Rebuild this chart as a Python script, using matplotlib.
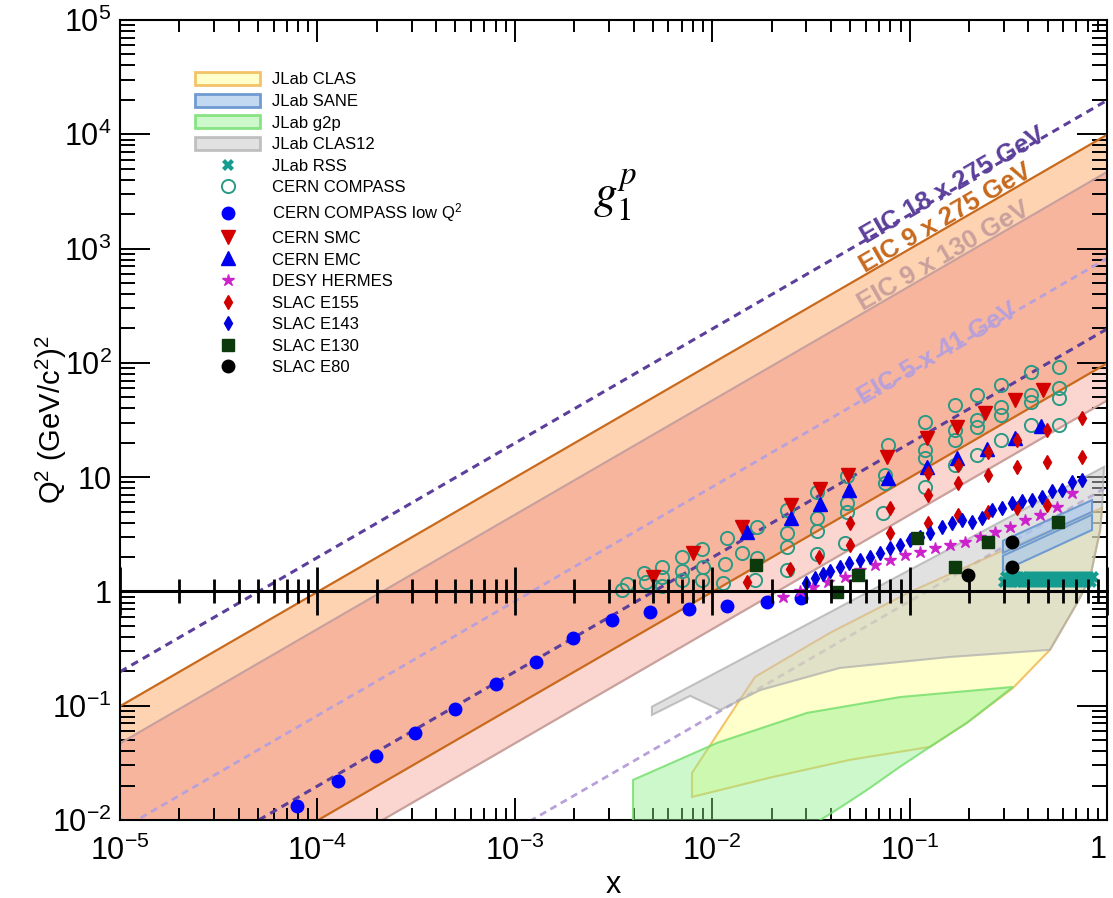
import numpy as np
import matplotlib
matplotlib.use('Agg')
from matplotlib import pyplot as plt
from matplotlib import ticker
from matplotlib.patches import Patch

plt.rcParams['font.family'] = ['Liberation Sans', 'DejaVu Sans']
plt.rcParams['mathtext.fontset'] = 'custom'
plt.rcParams['mathtext.rm'] = 'Liberation Sans'
plt.rcParams['mathtext.it'] = 'Liberation Sans:italic'
plt.rcParams['mathtext.bf'] = 'Liberation Sans:bold'

# ---------------- data ----------------
# EIC beam configurations, s = 4 Ee Ep (GeV^2), inelasticity limits y = 1 and y = 0.01
eic_labels = ['EIC 18 x 275 GeV', 'EIC 9 x 275 GeV', 'EIC 9 x 130 GeV', 'EIC 5 x 41 GeV']
eic_s = [19800, 9900, 4680, 820]
eic_y = [1.0, 0.01]
x_range = np.array([1e-5, 1.0])
eic_label_x = [0.172, 0.158, 0.155, 0.144]

# JLab kinematic coverage (x, Q2)
clas12_x = [0.00495, 0.966, 0.944, 0.923, 0.82, 0.705, 0.514, 0.160, 0.0443, 0.0175, 0.011, 0.00773, 0.00495]
clas12_q2 = [0.098, 12.3, 5.38, 3.45, 1.31, 0.79, 0.308, 0.267, 0.214, 0.137, 0.0918, 0.122, 0.083]

clas_x = [0.0079, 0.0079, 0.0138, 0.0165, 0.0395, 0.1005, 0.287, 0.944, 0.923, 0.82, 0.705, 0.514,
          0.334, 0.195, 0.1267, 0.0499, 0.0203]
clas_q2 = [0.0159, 0.0258, 0.1125, 0.179, 0.434, 0.99, 2.22, 5.38, 3.45, 1.31, 0.79, 0.308,
           0.143, 0.0708, 0.0436, 0.0336, 0.0238]

g2p_x = [0.00397, 0.00397, 0.0106, 0.0302, 0.0893, 0.334, 0.195, 0.1267, 0.0893, 0.0608, 0.0443,
         0.034, 0.0239]
g2p_q2 = [0.0037, 0.0224, 0.0473, 0.0865, 0.119, 0.146, 0.0708, 0.0436, 0.0292, 0.0183, 0.0128,
          0.0096, 0.0037]

sane_a_x = [0.297, 0.840, 0.840, 0.297]
sane_a_q2 = [2.77, 6.3, 4.97, 2.17]
sane_b_x = [0.297, 0.840, 0.840, 0.297]
sane_b_q2 = [2.05, 4.7, 3.45, 1.51]

rss_x = [0.300, 0.307, 0.314, 0.321, 0.329, 0.336, 0.344, 0.352, 0.360, 0.369, 0.377, 0.386,
         0.395, 0.404, 0.414, 0.423, 0.433, 0.443, 0.454, 0.464, 0.475, 0.486, 0.498, 0.509,
         0.521, 0.533, 0.546, 0.558, 0.571, 0.585, 0.598, 0.612, 0.627, 0.641, 0.656, 0.672,
         0.687, 0.703, 0.720, 0.737, 0.754, 0.771, 0.789, 0.808, 0.826, 0.845]
rss_q2 = [1.22, 1.34, 1.22, 1.34, 1.22, 1.34, 1.22, 1.34, 1.22, 1.34, 1.22, 1.34,
          1.22, 1.34, 1.22, 1.34, 1.22, 1.34, 1.22, 1.34, 1.22, 1.34, 1.22, 1.34,
          1.22, 1.34, 1.22, 1.34, 1.22, 1.34, 1.22, 1.34, 1.22, 1.34, 1.22, 1.34,
          1.22, 1.34, 1.22, 1.34, 1.22, 1.34, 1.22, 1.34, 1.22, 1.34]

compass_x = [0.0035, 0.0037, 0.0045, 0.0046, 0.0056, 0.0056, 0.0056, 0.0070, 0.0070, 0.0070,
             0.0089, 0.0090, 0.0089, 0.0119, 0.0116, 0.0114, 0.0142, 0.0169, 0.0169, 0.0165,
             0.024, 0.024, 0.024, 0.024, 0.034, 0.034, 0.034, 0.034, 0.048, 0.048, 0.048, 0.047,
             0.078, 0.075, 0.075, 0.073, 0.12, 0.12, 0.12, 0.12, 0.17, 0.17, 0.17, 0.17,
             0.22, 0.22, 0.22, 0.22, 0.29, 0.29, 0.29, 0.29, 0.41, 0.41, 0.41, 0.41,
             0.57, 0.57, 0.57, 0.57]
compass_q2 = [1.03, 1.16, 1.45, 1.21, 1.64, 1.34, 1.12, 2.0, 1.51, 1.26,
              2.35, 1.64, 1.26, 2.94, 1.74, 1.19, 2.17, 3.66, 1.96, 1.26,
              5.2, 3.25, 2.45, 1.54, 7.4, 4.4, 3.38, 2.13, 10.2, 5.9, 4.97, 2.65,
              19.1, 10.4, 8.9, 4.86, 30.4, 17.3, 14.7, 8.2, 42.9, 25.9, 21.1, 12.8,
              52, 31.6, 27.5, 15.6, 64, 41.1, 35, 21.1, 83, 52, 45.5, 28.6,
              92, 60, 49, 28.6]

compass_low_x = [7.9e-5, 1.27e-4, 1.98e-4, 3.12e-4, 4.98e-4, 8.0e-4, 1.28e-3, 1.97e-3, 3.10e-3,
                 4.84e-3, 7.6e-3, 0.0119, 0.019, 0.0282]
compass_low_q2 = [0.0133, 0.022, 0.0364, 0.0578, 0.0938, 0.155, 0.242, 0.392, 0.563,
                  0.662, 0.703, 0.747, 0.81, 0.877]

smc_x = [0.0050, 0.0080, 0.0142, 0.0251, 0.0352, 0.0488, 0.0769, 0.1225, 0.174, 0.241, 0.342, 0.474]
smc_q2 = [1.34, 2.17, 3.66, 5.7, 7.9, 10.4, 15.0, 22, 27.5, 36.5, 47.3, 58]

emc_x = [0.0150, 0.0251, 0.0352, 0.0493, 0.0778, 0.1225, 0.174, 0.247, 0.342, 0.464]
emc_q2 = [3.32, 4.4, 5.83, 7.7, 9.8, 12.3, 14.7, 17.7, 22, 28]

hermes_x = [0.0229, 0.0279, 0.0324, 0.0386, 0.0471, 0.0561, 0.0668, 0.0796, 0.0948, 0.113,
            0.135, 0.160, 0.191, 0.228, 0.271, 0.323, 0.385, 0.458, 0.559, 0.666]
hermes_q2 = [0.895, 1.01, 1.09, 1.21, 1.34, 1.54, 1.71, 1.89, 2.09, 2.22,
             2.40, 2.55, 2.71, 3.0, 3.32, 3.66, 4.2, 4.7, 5.5, 7.3]

e155_x = [0.0150, 0.0248, 0.0348, 0.0499, 0.0499, 0.0796, 0.0796, 0.124, 0.124, 0.124,
          0.176, 0.176, 0.176, 0.249, 0.249, 0.249, 0.350, 0.350, 0.350, 0.497, 0.497, 0.497,
          0.746, 0.746]
e155_q2 = [1.21, 1.57, 2.0, 2.55, 3.97, 3.25, 5.38, 3.97, 6.98, 10.9,
           4.7, 8.9, 12.8, 4.97, 10.4, 16.6, 5.38, 12.3, 21.1, 5.7, 13.6, 25.9,
           15.0, 33]

e143_x = [0.0299, 0.0332, 0.0364, 0.0395, 0.0443, 0.0493, 0.0561, 0.0630, 0.0708, 0.0796,
          0.0893, 0.1005, 0.113, 0.1267, 0.146, 0.164, 0.184, 0.207, 0.233, 0.261,
          0.294, 0.330, 0.371, 0.417, 0.469, 0.526, 0.591, 0.666, 0.746]
e143_q2 = [1.19, 1.31, 1.42, 1.51, 1.64, 1.77, 1.89, 2.0, 2.17, 2.40,
           2.55, 2.82, 3.0, 3.25, 3.66, 3.97, 4.2, 4.06, 4.4, 5.2,
           5.38, 5.9, 6.2, 6.3, 6.7, 7.6, 7.7, 9.1, 9.5]

e130_x = [0.0167, 0.0428, 0.0548, 0.109, 0.170, 0.249, 0.565]
e130_q2 = [1.71, 0.99, 1.39, 2.94, 1.64, 2.71, 4.06]

e80_x = [0.198, 0.330, 0.330]
e80_q2 = [1.39, 2.71, 1.64]

x_ticks = [1e-5, 1e-4, 1e-3, 1e-2, 1e-1, 1]
x_ticklabels = [r'$10^{-5}$', r'$10^{-4}$', r'$10^{-3}$', r'$10^{-2}$', r'$10^{-1}$', '1']
y_ticks = [1e-2, 1e-1, 1, 10, 1e2, 1e3, 1e4, 1e5]
y_ticklabels = [r'$10^{-2}$', r'$10^{-1}$', '1', '10', r'$10^{2}$', r'$10^{3}$', r'$10^{4}$', r'$10^{5}$']

# ---------------- figure ----------------
fig = plt.figure(figsize=(11.13, 8.98), dpi=100)
ax = fig.add_axes([120 / 1113, 78 / 898, 987 / 1113, 800 / 898])
ax.set_xscale('log')
ax.set_yscale('log')
ax.set_xlim(1e-5, 1)
ax.set_ylim(1e-2, 1e5)

# EIC bands: 9x275 (orange) and 9x130 (pink), overlap drawn salmon
q_hi = {s: s * eic_y[0] * x_range for s in eic_s}
q_lo = {s: s * eic_y[1] * x_range for s in eic_s}
ax.fill_between(x_range, q_hi[eic_s[2]], q_hi[eic_s[1]], color='#fdd3b2', lw=0, zorder=1)
ax.fill_between(x_range, q_lo[eic_s[1]], q_hi[eic_s[2]], color='#f8b59e', lw=0, zorder=1)
ax.fill_between(x_range, q_lo[eic_s[2]], q_lo[eic_s[1]], color='#fbd6d0', lw=0, zorder=1)

eic_colors = ['#5b3f9a', '#c8691c', '#c9a09c', '#b8a0da']
eic_styles = [(0, (2.5, 1.8)), '-', '-', (0, (2.5, 1.8))]
eic_widths = [2.2, 1.6, 1.6, 2.0]
for s, c, st, w in zip(eic_s, eic_colors, eic_styles, eic_widths):
    ax.plot(x_range, q_hi[s], color=c, ls=st, lw=w, zorder=2)
    ax.plot(x_range, q_lo[s], color=c, ls=st, lw=w, zorder=2)

# text along the lines
p0 = ax.transData.transform((1e-3, 1.0))
p1 = ax.transData.transform((1e-2, 10.0))
angle = np.degrees(np.arctan2(p1[1] - p0[1], p1[0] - p0[0]))
label_shift = [0.93, 1.05, 1.05, 0.9]
for lab, s, xl, c, f in zip(eic_labels, eic_s, eic_label_x, eic_colors, label_shift):
    ax.text(xl, s * xl * f, lab, color=c, fontsize=18.5, fontweight='bold', rotation=angle,
            rotation_mode='anchor', ha='center', va='baseline', zorder=4)

# JLab regions
clas_face, clas_edge = '#ffff9980', '#f0b040c0'
clas12_face, clas12_edge = '#c4c4c480', '#b0b0b0c0'
g2p_face, g2p_edge = '#8cf08c70', '#74de6cd0'
sane_face, sane_edge = '#a9c8ecb0', '#6f9bd0'
ax.fill(clas_x, clas_q2, facecolor=clas_face, edgecolor=clas_edge, lw=1.5, zorder=3)
ax.fill(clas12_x, clas12_q2, facecolor=clas12_face, edgecolor=clas12_edge, lw=1.5, zorder=3)
ax.fill(g2p_x, g2p_q2, facecolor=g2p_face, edgecolor=g2p_edge, lw=1.5, zorder=3)
ax.fill(sane_a_x, sane_a_q2, facecolor=sane_face, edgecolor=sane_edge, lw=1.5, zorder=3)
ax.fill(sane_b_x, sane_b_q2, facecolor=sane_face, edgecolor=sane_edge, lw=1.5, zorder=3)

# data points
kw = dict(ls='none', zorder=5)
h_rss = ax.plot(rss_x, rss_q2, marker='X', color='#149c90', ms=8, mew=0, **kw)[0]
h_compass = ax.plot(compass_x, compass_q2, marker='o', mfc='none', mec='#2a9a84', mew=1.4, ms=9.5, **kw)[0]
h_low = ax.plot(compass_low_x, compass_low_q2, marker='o', color='#0000ff', ms=9, **kw)[0]
h_smc = ax.plot(smc_x, smc_q2, marker='v', color='#d40000', ms=9.5, **kw)[0]
h_emc = ax.plot(emc_x, emc_q2, marker='^', color='#0000ee', ms=9.5, **kw)[0]
h_hermes = ax.plot(hermes_x, hermes_q2, marker='*', color='#cc22cc', ms=9, **kw)[0]
h_e155 = ax.plot(e155_x, e155_q2, marker='d', color='#d00000', ms=7.5, **kw)[0]
h_e143 = ax.plot(e143_x, e143_q2, marker='d', color='#0000dd', ms=7.5, **kw)[0]
h_e130 = ax.plot(e130_x, e130_q2, marker='s', color='#0c3a0c', ms=9, **kw)[0]
h_e80 = ax.plot(e80_x, e80_q2, marker='o', color='black', ms=9, **kw)[0]

# g1p label
ax.text(0.00322, 2945, r'$g_1^p$', math_fontfamily='stix', fontsize=34, ha='center', va='center')

# legend
handles = [
    Patch(facecolor=clas_face, edgecolor=clas_edge, lw=2, label='JLab CLAS'),
    Patch(facecolor=sane_face, edgecolor=sane_edge, lw=2, label='JLab SANE'),
    Patch(facecolor=g2p_face, edgecolor=g2p_edge, lw=2, label='JLab g2p'),
    Patch(facecolor=clas12_face, edgecolor=clas12_edge, lw=2, label='JLab CLAS12'),
    h_rss, h_compass, h_low, h_smc, h_emc, h_hermes, h_e155, h_e143, h_e130, h_e80,
]
labels = ['JLab CLAS', 'JLab SANE', 'JLab g2p', 'JLab CLAS12', 'JLab RSS', 'CERN COMPASS',
          r'CERN COMPASS low Q$^2$', 'CERN SMC', 'CERN EMC', 'DESY HERMES', 'SLAC E155',
          'SLAC E143', 'SLAC E130', 'SLAC E80']
ax.legend(handles, labels, loc='upper left', bbox_to_anchor=(0.076, 0.935), frameon=False,
          fontsize=12, handlelength=3.9, handleheight=0.85, labelspacing=0.37,
          handletextpad=0.72, borderpad=0, borderaxespad=0)

# axes, ticks
ax.xaxis.set_major_locator(ticker.FixedLocator(x_ticks))
ax.xaxis.set_major_formatter(ticker.FixedFormatter(x_ticklabels))
ax.yaxis.set_major_locator(ticker.FixedLocator(y_ticks))
ax.yaxis.set_major_formatter(ticker.FixedFormatter(y_ticklabels))
ax.xaxis.set_minor_locator(ticker.LogLocator(base=10, subs=np.arange(2, 10), numticks=100))
ax.yaxis.set_minor_locator(ticker.LogLocator(base=10, subs=np.arange(2, 10), numticks=100))
ax.xaxis.set_minor_formatter(ticker.NullFormatter())
ax.yaxis.set_minor_formatter(ticker.NullFormatter())

ax.tick_params(which='both', direction='in', top=True, right=True, width=1.4, labelsize=22)
ax.tick_params(axis='x', which='major', length=16, pad=11)
ax.tick_params(axis='x', which='minor', length=8.5)
ax.tick_params(axis='y', which='major', length=21.5, pad=6)
ax.tick_params(axis='y', which='minor', length=10.5)
for sp in ax.spines.values():
    sp.set_linewidth(1.5)

# keep the last x label ("1") inside the figure
ax.get_xticklabels()[-1].set_ha('right')

ax.set_xlabel('x', fontsize=22)
ax.set_ylabel(r'Q$^2$ (GeV/c$^2$)$^2$', fontsize=21)
ax.yaxis.set_label_coords(-0.052, 0.5)
ax.xaxis.set_label_coords(0.5, -0.062)

# extra x axis drawn along Q2 = 1, on top of everything
sec = ax.secondary_xaxis(2 / 7)
sec.set_zorder(10)
sec.spines['bottom'].set_linewidth(2.2)
sec.xaxis.set_major_locator(ticker.FixedLocator(x_ticks))
sec.xaxis.set_minor_locator(ticker.LogLocator(base=10, subs=np.arange(2, 10), numticks=100))
sec.xaxis.set_major_formatter(ticker.NullFormatter())
sec.xaxis.set_minor_formatter(ticker.NullFormatter())
sec.tick_params(which='major', direction='inout', length=34, width=2)
sec.tick_params(which='minor', direction='inout', length=17, width=2)

fig.savefig('out.png', dpi=100)
